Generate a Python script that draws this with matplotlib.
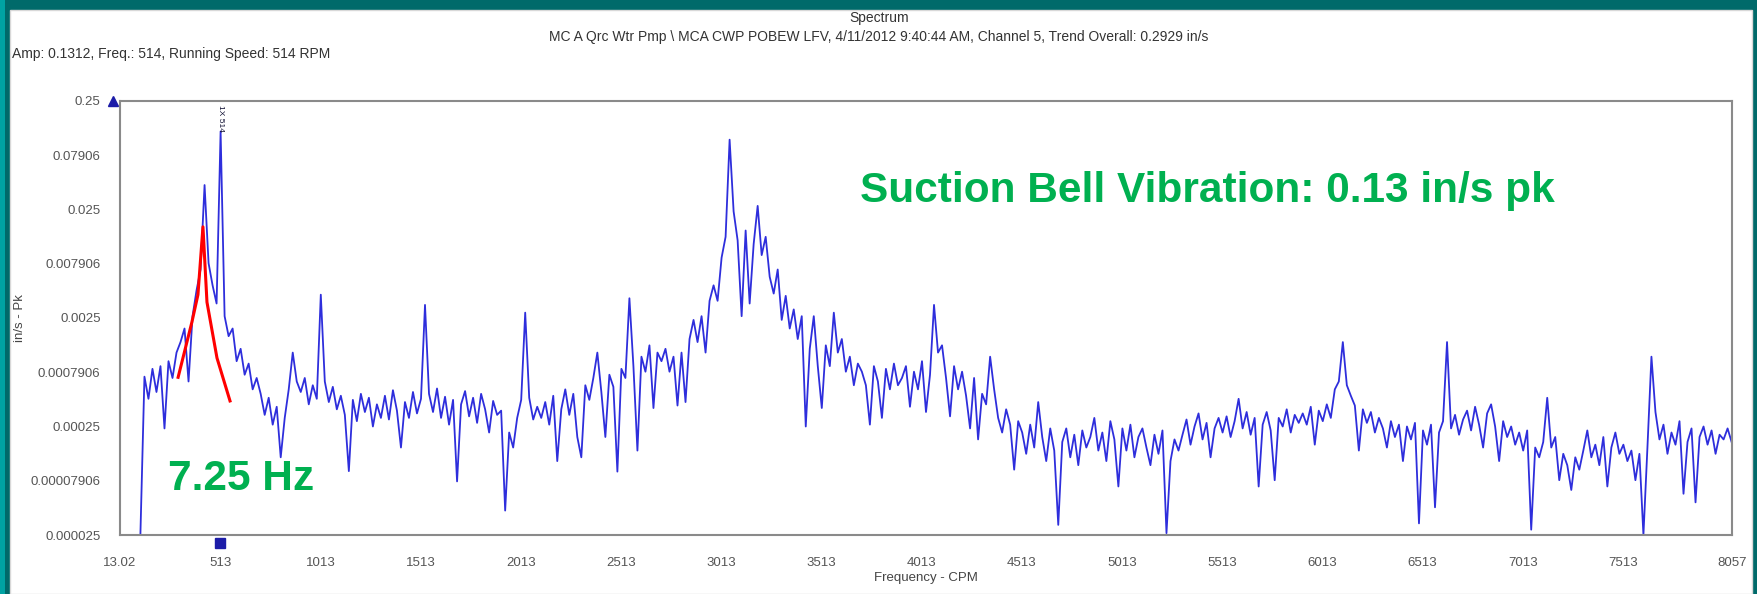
import numpy as np
import matplotlib.pyplot as plt
import matplotlib.transforms as mtransforms
from matplotlib.patches import Rectangle
from matplotlib.ticker import NullLocator

plt.rcParams['font.family'] = ['Liberation Sans', 'DejaVu Sans']

# spectrum lines: one every 20 CPM starting at 115 CPM, amplitude in in/s Pk
freq_start = 115
freq_step = 20
amp = [
    2.6e-5, 7.2e-4, 4.5e-4, 8.5e-4, 5.2e-4, 9.0e-4, 2.4e-4, 1.0e-3, 7.0e-4, 1.2e-3,
    1.5e-3, 2.0e-3, 6.5e-4, 2.6e-3, 4.5e-3, 7.0e-3, 0.042, 8.0e-3, 5.0e-3, 3.4e-3,
    0.1312, 2.6e-3, 1.7e-3, 2.0e-3, 1.0e-3, 1.3e-3, 7.5e-4, 9.5e-4, 5.5e-4, 7.0e-4,
    5.0e-4, 3.2e-4, 4.6e-4, 2.6e-4, 3.8e-4, 1.3e-4, 3.0e-4, 5.5e-4, 1.2e-3, 6.5e-4,
    5.2e-4, 7.0e-4, 4.0e-4, 6.0e-4, 4.5e-4, 4.1e-3, 6.5e-4, 4.2e-4, 5.8e-4, 3.6e-4,
    4.8e-4, 3.2e-4, 9.7e-5, 4.4e-4, 2.8e-4, 5.0e-4, 3.4e-4, 4.6e-4, 2.5e-4, 4.0e-4,
    3.0e-4, 4.8e-4, 2.9e-4, 5.4e-4, 3.5e-4, 1.6e-4, 4.2e-4, 3.0e-4, 5.2e-4, 3.3e-4,
    4.5e-4, 3.3e-3, 5.0e-4, 3.4e-4, 5.6e-4, 3.0e-4, 4.7e-4, 2.6e-4, 4.4e-4, 7.8e-5,
    4.0e-4, 5.3e-4, 3.1e-4, 4.6e-4, 2.7e-4, 5.0e-4, 3.6e-4, 2.2e-4, 4.3e-4, 3.2e-4,
    3.5e-4, 4.2e-5, 2.2e-4, 1.6e-4, 3.0e-4, 4.4e-4, 2.8e-3, 4.6e-4, 2.9e-4, 3.8e-4,
    3.0e-4, 4.2e-4, 2.6e-4, 4.8e-4, 1.2e-4, 3.6e-4, 5.5e-4, 3.2e-4, 5.0e-4, 2.0e-4,
    1.3e-4, 6.0e-4, 4.4e-4, 7.0e-4, 1.2e-3, 5.2e-4, 2.0e-4, 7.5e-4, 5.8e-4, 9.6e-5,
    8.5e-4, 7.0e-4, 3.8e-3, 9.0e-4, 1.5e-4, 1.1e-3, 8.0e-4, 1.4e-3, 3.7e-4, 1.2e-3,
    1.0e-3, 1.3e-3, 8.0e-4, 1.1e-3, 3.9e-4, 1.2e-3, 4.2e-4, 1.6e-3, 2.4e-3, 1.5e-3,
    2.6e-3, 1.2e-3, 3.6e-3, 5.0e-3, 3.6e-3, 9.0e-3, 0.014, 0.11, 0.024, 0.013,
    2.6e-3, 0.016, 3.4e-3, 0.012, 0.027, 9.5e-3, 0.014, 6.0e-3, 4.2e-3, 7.0e-3,
    2.4e-3, 4.0e-3, 2.0e-3, 3.0e-3, 1.6e-3, 2.6e-3, 2.5e-4, 1.3e-3, 2.6e-3, 9.0e-4,
    3.7e-4, 1.4e-3, 9.0e-4, 2.8e-3, 1.2e-3, 1.6e-3, 8.0e-4, 1.1e-3, 6.0e-4, 9.5e-4,
    8.0e-4, 6.0e-4, 2.6e-4, 9.0e-4, 6.5e-4, 3.0e-4, 8.5e-4, 5.5e-4, 9.5e-4, 6.0e-4,
    7.0e-4, 9.0e-4, 3.8e-4, 8.0e-4, 5.5e-4, 1.0e-3, 3.4e-4, 7.5e-4, 3.3e-3, 1.2e-3,
    1.4e-3, 7.0e-4, 3.1e-4, 9.0e-4, 5.5e-4, 8.0e-4, 4.8e-4, 2.4e-4, 7.0e-4, 1.9e-4,
    5.0e-4, 4.0e-4, 1.1e-3, 5.5e-4, 3.0e-4, 2.2e-4, 3.6e-4, 2.6e-4, 1.0e-4, 2.8e-4,
    2.2e-4, 1.4e-4, 2.6e-4, 1.6e-4, 4.2e-4, 2.0e-4, 1.2e-4, 2.4e-4, 1.5e-4, 3.1e-5,
    1.8e-4, 2.4e-4, 1.3e-4, 2.1e-4, 1.1e-4, 2.3e-4, 1.6e-4, 2.0e-4, 3.0e-4, 1.5e-4,
    2.2e-4, 1.2e-4, 2.8e-4, 1.9e-4, 7.0e-5, 2.4e-4, 1.5e-4, 2.6e-4, 1.3e-4, 2.0e-4,
    2.4e-4, 1.6e-4, 1.1e-4, 2.1e-4, 1.4e-4, 2.3e-4, 2.6e-5, 1.2e-4, 1.9e-4, 1.5e-4,
    2.1e-4, 2.9e-4, 1.7e-4, 2.5e-4, 3.3e-4, 1.9e-4, 2.7e-4, 1.3e-4, 2.4e-4, 3.0e-4,
    2.2e-4, 3.1e-4, 2.0e-4, 2.8e-4, 4.5e-4, 2.4e-4, 3.4e-4, 2.1e-4, 3.0e-4, 7.0e-5,
    2.6e-4, 3.4e-4, 2.3e-4, 8.0e-5, 3.0e-4, 2.5e-4, 3.6e-4, 2.2e-4, 3.2e-4, 2.7e-4,
    3.3e-4, 2.6e-4, 3.8e-4, 1.7e-4, 3.5e-4, 2.8e-4, 4.0e-4, 3.0e-4, 5.5e-4, 6.5e-4,
    1.5e-3, 6.0e-4, 4.8e-4, 3.9e-4, 1.5e-4, 3.6e-4, 2.7e-4, 3.4e-4, 2.2e-4, 3.0e-4,
    2.4e-4, 1.6e-4, 2.8e-4, 2.0e-4, 2.6e-4, 1.2e-4, 2.5e-4, 1.9e-4, 2.7e-4, 3.2e-5,
    2.3e-4, 1.7e-4, 2.6e-4, 4.5e-5, 2.2e-4, 2.8e-4, 1.5e-3, 2.4e-4, 3.2e-4, 2.1e-4,
    2.9e-4, 3.5e-4, 2.3e-4, 3.8e-4, 2.6e-4, 1.6e-4, 3.3e-4, 4.0e-4, 2.5e-4, 1.2e-4,
    2.8e-4, 2.0e-4, 2.5e-4, 1.7e-4, 2.2e-4, 1.5e-4, 2.3e-4, 2.8e-5, 1.6e-4, 1.3e-4,
    1.8e-4, 4.6e-4, 1.6e-4, 2.0e-4, 8.0e-5, 1.4e-4, 1.1e-4, 6.5e-5, 1.3e-4, 1.0e-4,
    1.5e-4, 2.3e-4, 1.3e-4, 1.7e-4, 1.1e-4, 2.0e-4, 7.0e-5, 1.6e-4, 2.2e-4, 1.4e-4,
    1.7e-4, 1.2e-4, 1.5e-4, 8.0e-5, 1.4e-4, 2.5e-5, 1.6e-4, 1.1e-3, 3.4e-4, 1.9e-4,
    2.6e-4, 1.4e-4, 2.2e-4, 1.7e-4, 2.8e-4, 6.0e-5, 1.8e-4, 2.4e-4, 5.0e-5, 2.0e-4,
    2.5e-4, 1.7e-4, 2.3e-4, 1.4e-4, 2.1e-4, 1.9e-4, 2.4e-4, 1.8e-4,
]
freq = freq_start + freq_step * np.arange(len(amp))

# hand-drawn red highlight around the 7.25 Hz hump
red_x = [303, 372, 402, 427, 447, 497, 562]
red_y = [7.1e-4, 2.3e-3, 4.1e-3, 0.0173, 3.5e-3, 1.07e-3, 4.3e-4]

running_speed = 514

yticks = [0.25, 0.07906, 0.025, 0.007906, 0.0025, 0.0007906, 0.00025, 0.00007906, 0.000025]
ytick_labels = ['0.25', '0.07906', '0.025', '0.007906', '0.0025', '0.0007906',
                '0.00025', '0.00007906', '0.000025']
xticks = [13.02, 513, 1013, 1513, 2013, 2513, 3013, 3513, 4013, 4513, 5013,
          5513, 6013, 6513, 7013, 7513, 8057]
xtick_labels = ['13.02', '513', '1013', '1513', '2013', '2513', '3013', '3513', '4013',
                '4513', '5013', '5513', '6013', '6513', '7013', '7513', '8057']

W, H = 1758, 594
fig = plt.figure(figsize=(W / 100, H / 100), dpi=100, facecolor='#006a6a')
fig.add_artist(Rectangle((0, 0), 5 / W, 1, transform=fig.transFigure,
                         facecolor='#00a3a3', lw=0, zorder=0))
fig.add_artist(Rectangle((10 / W, 0), (1752 - 10) / W, (H - 10) / H,
                         transform=fig.transFigure, facecolor='white',
                         edgecolor='#d8d8d8', lw=1, zorder=0))

ax = fig.add_axes([120 / W, (H - 535) / H, (1732 - 120) / W, (535 - 101) / H])
ax.set_yscale('log')
ax.plot(freq, amp, color='#2e2edc', lw=1.3)
ax.plot(red_x, red_y, color='red', lw=2.2)

ax.set_xlim(13.02, 8057)
ax.set_ylim(2.5e-5, 0.25)
ax.set_yticks(yticks)
ax.set_yticklabels(ytick_labels)
ax.yaxis.set_minor_locator(NullLocator())
ax.set_xticks(xticks)
ax.set_xticklabels(xtick_labels)
ax.tick_params(length=0, labelsize=9.5, labelcolor='#555555')
ax.tick_params(axis='y', pad=14)
ax.tick_params(axis='x', pad=16)
for s in ax.spines.values():
    s.set_color('#8a8a8a')
    s.set_linewidth(1.5)

ax.set_xlabel('Frequency - CPM', fontsize=9.5, color='#444444', labelpad=2)
ax.set_ylabel('in/s - Pk', fontsize=9.5, color='#444444')
ax.yaxis.set_label_coords(-(120 - 26) / 1612, 0.5)

# cursor markers
trans_x = mtransforms.blended_transform_factory(ax.transData, ax.transAxes)
ax.plot([-7 / 1612], [1.0], marker='^', color='#1c1ca8', ms=7,
        transform=ax.transAxes, clip_on=False)
ax.plot([running_speed], [-0.018], marker='s', color='#1c1ca8', ms=7,
        transform=trans_x, clip_on=False)
ax.text(running_speed, 0.99, '1X 514', transform=trans_x, rotation=270,
        fontsize=6, color='#111133', ha='center', va='top')

# header texts
fig.text(0.5, 1 - 18 / H, 'Spectrum', fontsize=10, color='#333333', ha='center', va='center')
fig.text(0.5, 1 - 37 / H,
         'MC A Qrc Wtr Pmp \\ MCA CWP POBEW LFV, 4/11/2012 9:40:44 AM, Channel 5, '
         'Trend Overall: 0.2929 in/s',
         fontsize=10, color='#333333', ha='center', va='center')
fig.text(12 / W, 1 - 54 / H, 'Amp: 0.1312, Freq.: 514, Running Speed: 514 RPM',
         fontsize=10, color='#333333', ha='left', va='center')

# green annotations
fig.text(860 / W, (H - 202) / H, 'Suction Bell Vibration: 0.13 in/s pk',
         fontsize=30.5, fontweight='bold', color='#00b050', ha='left', va='baseline')
fig.text(168 / W, (H - 490) / H, '7.25 Hz',
         fontsize=30.5, fontweight='bold', color='#00b050', ha='left', va='baseline')

fig.savefig('out.png', dpi=100, facecolor=fig.get_facecolor())
